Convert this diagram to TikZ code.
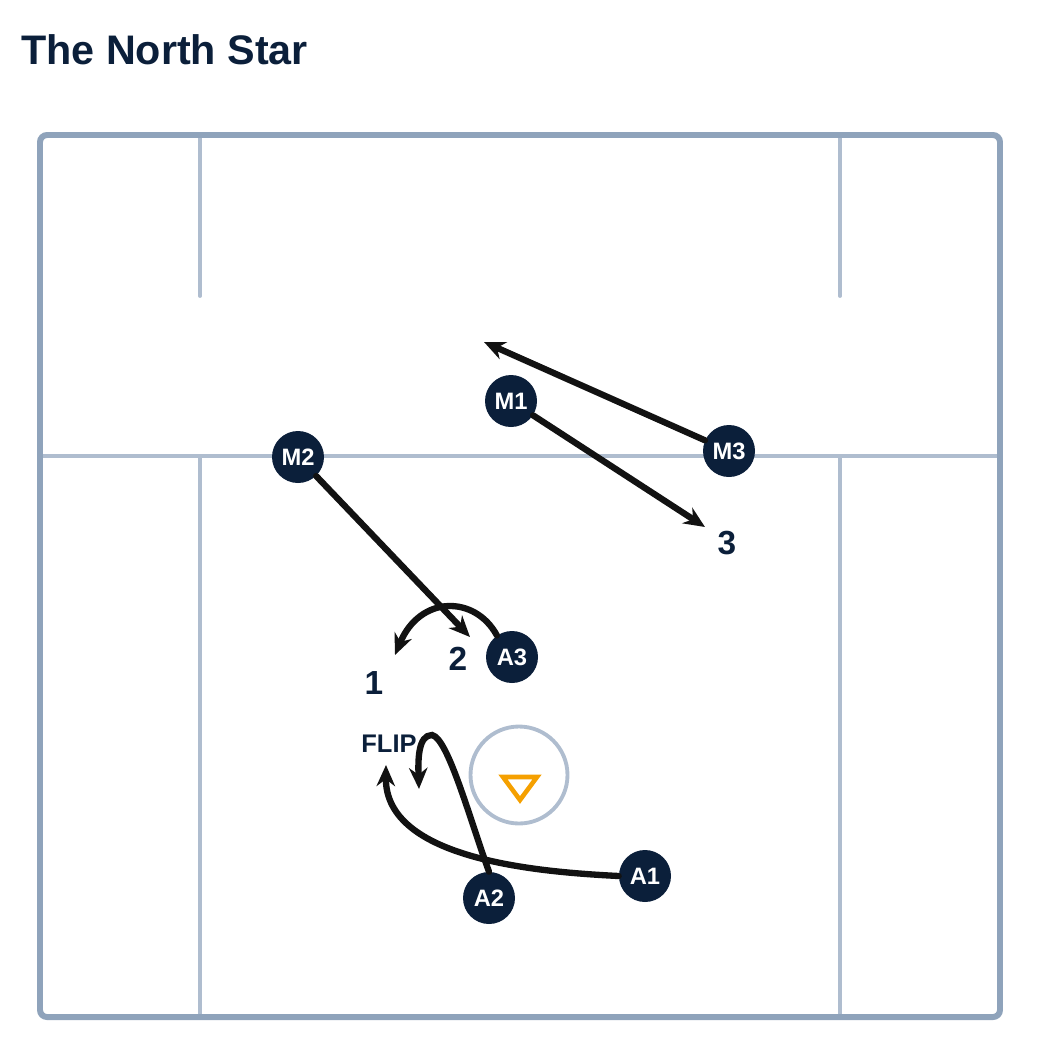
\documentclass[tikz,border=0pt]{standalone}
\usepackage{fontspec}
\setmainfont{Liberation Sans}
\usetikzlibrary{arrows.meta}
\definecolor{mynavy}{HTML}{0B1F3A}
\definecolor{myline}{HTML}{AFBDCF}
\definecolor{myedge}{HTML}{8FA3BB}
\definecolor{myorange}{HTML}{F5A000}
\colorlet{myarrow}{black!93}

\begin{document}
\begin{tikzpicture}[x=0.02cm,y=-0.02cm]
\tikzset{Player/.style ={circle,fill=mynavy,text=white,inner sep=0pt,minimum size=52*0.02cm,font=\bfseries\fontsize{13.5}{13.5}\selectfont}}
\tikzset{Cut/.style ={-{Stealth[length=12pt,width=10.5pt]},color=myarrow,line width=3.6pt,line cap=round}}
\tikzset{Spot/.style ={text=mynavy,font=\bfseries\fontsize{19}{19}\selectfont}}
\tikzset{FieldLine/.style ={myline,line width=2.2pt,line cap=round}}
\useasboundingbox (0,0) rectangle (1040,1056);
\node[anchor=west,text=mynavy,font=\bfseries\fontsize{23.5}{23.5}\selectfont] (title) at (15,50) {The North Star};
% field
\draw[FieldLine] (200,135) -- (200,296);
\draw[FieldLine] (840,135) -- (840,296);
\draw[FieldLine] (40,456) -- (1000,456);
\draw[FieldLine] (200,456) -- (200,1017);
\draw[FieldLine] (840,456) -- (840,1017);
\draw[myedge,line width=3.4pt,rounded corners=4pt] (40,135) rectangle (1000,1017);
% crease and goal
\node[circle,draw=myline,line width=2.2pt,minimum size=97*0.02cm] (goal) at (519,775) {};
\draw[myorange,line width=2.6pt,line join=miter] (503,777) -- (537,777) -- (520,800) -- cycle;
% players
\node[Player] (M1) at (511,401) {M1};
\node[Player] (M2) at (298,457) {M2};
\node[Player] (M3) at (729,451) {M3};
\node[Player] (A3) at (512,657) {A3};
\node[Player] (A1) at (645,876) {A1};
\node[Player] (A2) at (489,898) {A2};
% spots
\node[Spot] (one) at (374,683) {1};
\node[Spot] (two) at (458,659) {2};
\node[Spot] (three) at (727,543) {3};
\node[text=mynavy,font=\bfseries\fontsize{14.5}{14.5}\selectfont] (flip) at (389,744) {FLIP};
\coordinate (m3end) at (484,342);
\coordinate (m1end) at (705,527);
\coordinate (m2end) at (470,637);
\coordinate (a3end) at (395,655);
\coordinate (a1end) at (386,765);
\coordinate (a2top) at (432,735);
\coordinate (a2end) at (419,789);
% movement
\draw[Cut] (M3) -- (m3end);
\draw[Cut] (M1) -- (m1end);
\draw[Cut] (M2) -- (m2end);
\draw[Cut] (A3.125) .. controls (475,595) and (420,595) .. (a3end);
\draw[Cut] (A1.west) .. controls (540,872) and (385,860) .. (a1end);
\draw[Cut] (A2.north) .. controls (470,820) and (448,738) .. (a2top) .. controls (418,735) and (418,760) .. (a2end);
\end{tikzpicture}
\end{document}
